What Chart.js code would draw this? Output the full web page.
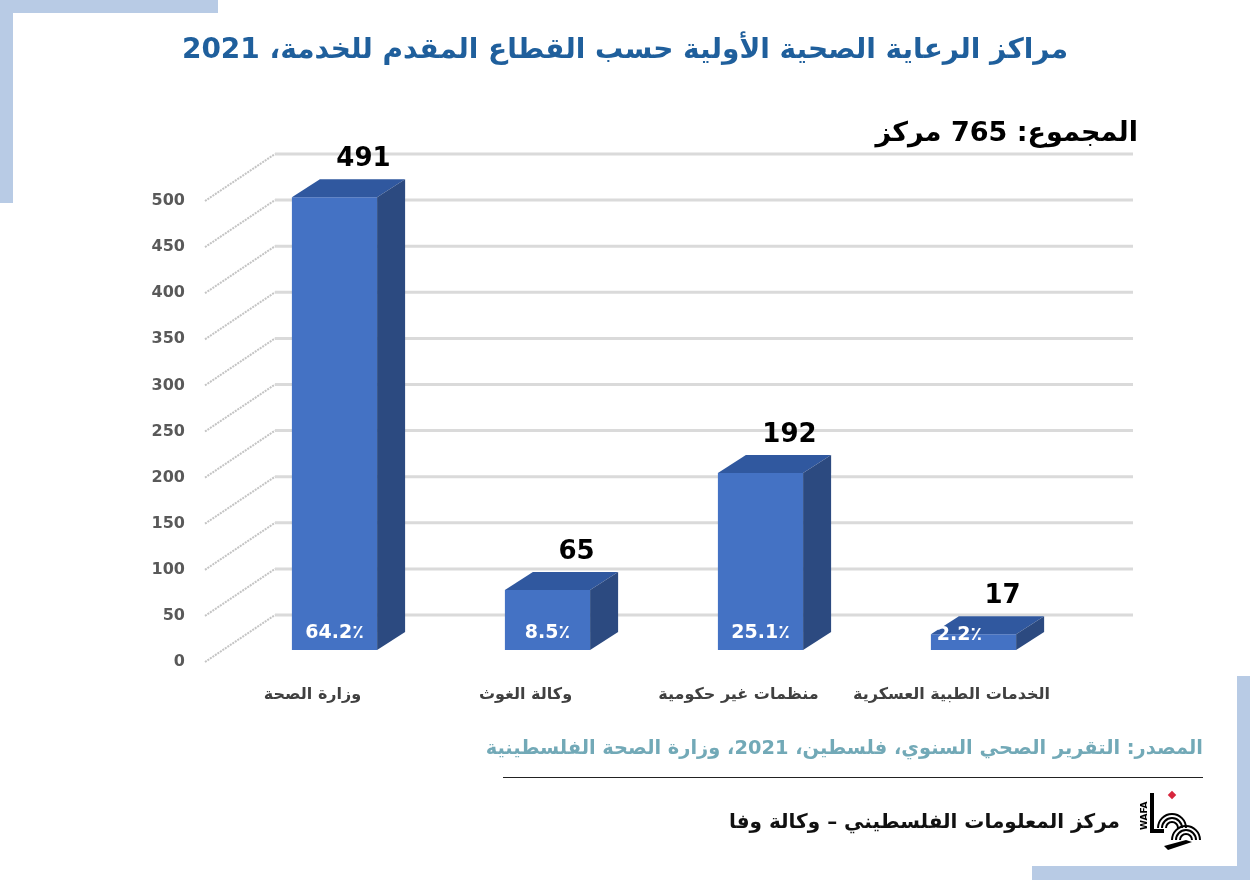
<!DOCTYPE html>
<html lang="ar">
<head>
<meta charset="UTF-8">
<title>مراكز الرعاية الصحية الأولية</title>
<script src="https://cdn.jsdelivr.net/npm/chart.js"></script>
<style>
  html, body { margin: 0; padding: 0; background: #fff; }
  body { width: 1250px; height: 880px; position: relative; overflow: hidden; font-family: "DejaVu Sans", sans-serif; }
  .deco { position: absolute; background: #b8cbe5; }
  #chartBox { position: absolute; left: 0; top: 0; width: 1250px; height: 880px; }
  .txt { position: absolute; direction: rtl; white-space: nowrap; }
  #title { top: 32px; left: 0; width: 1250px; text-align: center; direction: rtl; color: #1f5f9c; font-weight: bold; font-size: 28px; }
  #total { top: 116px; right: 112px; font-weight: bold; font-size: 27px; color: #000; }
  #source { top: 736px; right: 47px; color: #72a9b7; font-weight: bold; font-size: 19.4px; }
  #rule { position: absolute; left: 503px; top: 777px; width: 700px; height: 1px; background: #222; }
  #footer { top: 809px; right: 130px; font-size: 20px; color: #111; font-weight: 600; }
  #logo { position: absolute; left: 1136px; top: 788px; }
</style>
</head>
<body>
<div class="deco" style="left:0;top:0;width:218px;height:13px"></div>
<div class="deco" style="left:0;top:0;width:13px;height:203px"></div>
<div class="deco" style="left:1237px;top:676px;width:13px;height:204px"></div>
<div class="deco" style="left:1032px;top:866px;width:218px;height:14px"></div>

<div id="chartBox"><canvas id="centersChart" width="1250" height="880"></canvas></div>

<div class="txt" id="title">مراكز الرعاية الصحية الأولية حسب القطاع المقدم للخدمة، 2021</div>
<div class="txt" id="total">المجموع: 765 مركز</div>
<div class="txt" id="source">المصدر: التقرير الصحي السنوي، فلسطين، 2021، وزارة الصحة الفلسطينية</div>
<div id="rule"></div>
<div class="txt" id="footer">مركز المعلومات الفلسطيني – وكالة وفا</div>
<svg id="logo" width="66" height="62" viewBox="0 0 66 62">
  <text x="0" y="0" transform="translate(11,42) rotate(-90)" font-family="DejaVu Sans" font-weight="bold" font-size="9" fill="#000">WAFA</text>
  <rect x="14" y="5" width="4" height="40" fill="#000"/>
  <rect x="14" y="41" width="14" height="4" fill="#000"/>
  <rect x="33" y="4" width="6" height="6" fill="#d7263d" transform="rotate(45 36 7)"/>
  <g fill="none" stroke="#000" stroke-width="2">
    <path d="M22 40 A14 14 0 0 1 50 40"/>
    <path d="M26 40 A10 10 0 0 1 46 40"/>
    <path d="M30 40 A6 6 0 0 1 42 40"/>
    <path d="M36 52 A14 14 0 0 1 64 52"/>
    <path d="M40 52 A10 10 0 0 1 60 52"/>
    <path d="M44 52 A6 6 0 0 1 56 52"/>
  </g>
  <path d="M28 58 L50 52 L56 54 L32 62 Z" fill="#000"/>
</svg>

<script>
// values
const sectors = ['وزارة الصحة', 'وكالة الغوث', 'منظمات غير حكومية', 'الخدمات الطبية العسكرية'];
const centerCounts = [491, 65, 192, 17];
const shareLabels = ['64.2٪', '8.5٪', '25.1٪', '2.2٪'];
const yTicks = [0, 50, 100, 150, 200, 250, 300, 350, 400, 450, 500];

const DEPTH_X = 28, DEPTH_Y = 18;     // bar depth
const BACK_DY = 35;                   // back wall offset for gridlines
const FRONT_X = 205;                  // front edge of the floor

// 3D look: back gridlines, diagonal floor lines, bar sides and labels
const threeD = {
    id: 'threeD',
    beforeDatasetsDraw(chart) {
        const ctx = chart.ctx, y = chart.scales.y;
        ctx.save();
        yTicks.forEach(v => {
            const py = y.getPixelForValue(v);
            // back line
            ctx.strokeStyle = '#dadada';
            ctx.lineWidth = 3;
            ctx.beginPath();
            ctx.moveTo(275, py - BACK_DY);
            ctx.lineTo(1133, py - BACK_DY);
            ctx.stroke();
            // side wall diagonal
            ctx.strokeStyle = '#c4c4c4';
            ctx.lineWidth = 2;
            ctx.setLineDash([2, 1]);
            ctx.beginPath();
            ctx.moveTo(FRONT_X, py + 12);
            ctx.lineTo(275, py - BACK_DY);
            ctx.stroke();
            ctx.setLineDash([]);
        });
        ctx.restore();
    },
    afterDatasetsDraw(chart) {
        const ctx = chart.ctx;
        const bars = chart.getDatasetMeta(0).data;
        ctx.save();
        bars.forEach((bar, i) => {
            const l = bar.x - bar.width / 2, r = bar.x + bar.width / 2;
            const t = bar.y, b = bar.base;
            // top face
            ctx.fillStyle = '#30589f';
            ctx.beginPath();
            ctx.moveTo(l, t);
            ctx.lineTo(l + DEPTH_X, t - DEPTH_Y);
            ctx.lineTo(r + DEPTH_X, t - DEPTH_Y);
            ctx.lineTo(r, t);
            ctx.closePath();
            ctx.fill();
            // side face
            ctx.fillStyle = '#2c4a80';
            ctx.beginPath();
            ctx.moveTo(r, t);
            ctx.lineTo(r + DEPTH_X, t - DEPTH_Y);
            ctx.lineTo(r + DEPTH_X, b - DEPTH_Y);
            ctx.lineTo(r, b);
            ctx.closePath();
            ctx.fill();
            // value above
            ctx.fillStyle = '#000';
            ctx.font = 'bold 26px "DejaVu Sans", sans-serif';
            ctx.textAlign = 'center';
            ctx.textBaseline = 'middle';
            ctx.fillText(String(centerCounts[i]), bar.x + 29, t - DEPTH_Y - 20);
            // share inside
            ctx.fillStyle = '#fff';
            ctx.font = 'bold 19px "DejaVu Sans", sans-serif';
            ctx.fillText(shareLabels[i], bar.x - (i === 3 ? 14 : 0), b - (i === 3 ? 15 : 17));
        });
        ctx.restore();
    }
};

const ctx = document.getElementById('centersChart').getContext('2d');
new Chart(ctx, {
    type: 'bar',
    data: {
        labels: sectors,
        datasets: [{
            data: centerCounts,
            backgroundColor: '#4472c4',
            borderWidth: 0,
            barPercentage: 0.4,
            categoryPercentage: 1
        }]
    },
    options: {
        responsive: false,
        animation: false,
        layout: { padding: { left: 100, top: 189, right: 170, bottom: 170 } },
        plugins: { legend: { display: false }, tooltip: { enabled: false } },
        scales: {
            x: {
                afterFit(scale) { scale.height = 60; },
                grid: { display: false },
                border: { display: false },
                ticks: {
                    labelOffset: -22,
                    padding: 27,
                    color: '#404040',
                    font: { family: 'DejaVu Sans', size: 16, weight: 'bold' }
                }
            },
            y: {
                min: 0,
                max: 500,
                afterFit(scale) { scale.width = 128; },
                grid: { display: false, drawTicks: false },
                border: { display: false },
                ticks: {
                    stepSize: 50,
                    labelOffset: 12,
                    padding: 43,
                    color: '#595959',
                    font: { family: 'DejaVu Sans', size: 16, weight: 'bold' }
                }
            }
        }
    },
    plugins: [threeD]
});
</script>
</body>
</html>
